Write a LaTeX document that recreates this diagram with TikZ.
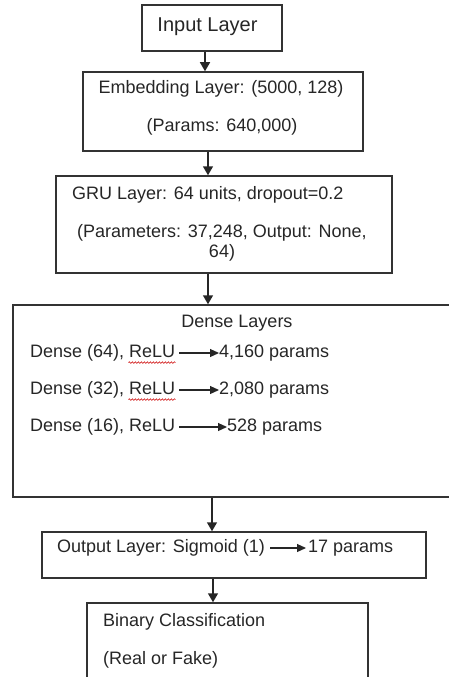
\documentclass[tikz,border=0pt]{standalone}
\usepackage{fontspec}
\setmainfont{Liberation Sans}
\usetikzlibrary{arrows.meta,decorations.pathmorphing}

\tikzset{
  layerbox/.style={draw=black!80, line width=1.5pt, inner sep=0pt},
  txt/.style={inner sep=0pt, text=black!85, font=\fontsize{18}{21}\selectfont},
  flow/.style={-{Triangle[width=10pt,length=9pt]}, line width=1.5pt, black!85},
  tip/.style={-{Triangle[width=8pt,length=9pt]}, line width=1.2pt, black!85},
  squig/.style={red!80!black, line width=.6pt, decorate, decoration={snake, amplitude=.8pt, segment length=3pt}}
}

\begin{document}
\begin{tikzpicture}[x=1pt, y=-1pt]
	\useasboundingbox (0,0) rectangle (448,677);
	% layer boxes
	\node[layerbox, minimum width=140pt, minimum height=46pt] (input) at (212,28) {};
	\node[layerbox, minimum width=280pt, minimum height=79pt] (embed) at (223,111.5) {};
	\node[layerbox, minimum width=336pt, minimum height=97pt] (gru) at (224,224.5) {};
	\node[layerbox, minimum width=438pt, minimum height=192pt] (dense) at (232,401) {};
	\node[layerbox, minimum width=384pt, minimum height=46pt] (output) at (234,555) {};
	\node[layerbox, minimum width=281pt, minimum height=110pt] (binary) at (227.5,658) {};
	
	% texts
	\node[txt, font=\fontsize{20}{22}\selectfont] (inputtxt) at (207.5,27) {Input Layer};
	\node[txt] (embedtxt) at (221,89) {Embedding Layer: (5000, 128)};
	\node[txt] (embedpar) at (222,127) {(Params: 640,000)};
	\node[txt, anchor=west] (grutxt) at (72,195) {GRU Layer: 64 units, dropout=0.2};
	\node[txt, anchor=west] (grupar) at (77,233) {(Parameters: 37,248, Output: None,};
	\node[txt] (gruout) at (222,253) {64)};
	\node[txt] (densetxt) at (237,323) {Dense Layers};
	\foreach \i/\yy/\u/\p/\px in {1/353/64/{4,160 params}/219, 2/390/32/{2,080 params}/219, 3/427/16/{528 params}/227} {
		\node[txt, anchor=west] (row\i) at (30,\yy) {Dense (\u), ReLU};
		\node[txt, anchor=west] (par\i) at (\px,\yy) {\p};
		\draw[tip] ([xshift=4pt]row\i.east) -- (par\i.west);
	}
	\foreach \i in {1,2}
		\draw[squig] ([xshift=-47pt,yshift=-1pt]row\i.south east) -- ([yshift=-1pt]row\i.south east);
	\node[txt, anchor=west] (outtxt) at (57,548) {Output Layer: Sigmoid (1)};
	\node[txt, anchor=west] (outpar) at (308,548) {17 params};
	\draw[tip] ([xshift=5pt]outtxt.east) -- ([xshift=-2pt]outpar.west);
	\node[txt, anchor=west] (bintxt) at (103,622) {Binary Classification};
	\node[txt, anchor=west] (binsub) at (103,660) {(Real or Fake)};
	
	% connectors
	\draw[flow] ([xshift=-7pt]input.south) -- ([xshift=-7pt]input.south |- embed.north);
	\draw[flow] ([xshift=-15pt]embed.south) -- ([xshift=-15pt]embed.south |- gru.north);
	\draw[flow] ([xshift=-16pt]gru.south) -- ([xshift=-16pt]gru.south |- dense.north);
	\draw[flow] ([xshift=-20pt]dense.south) -- ([xshift=-20pt]dense.south |- output.north);
	\draw[flow] ([xshift=-21pt]output.south) -- ([xshift=-21pt]output.south |- binary.north);
\end{tikzpicture}
\end{document}
